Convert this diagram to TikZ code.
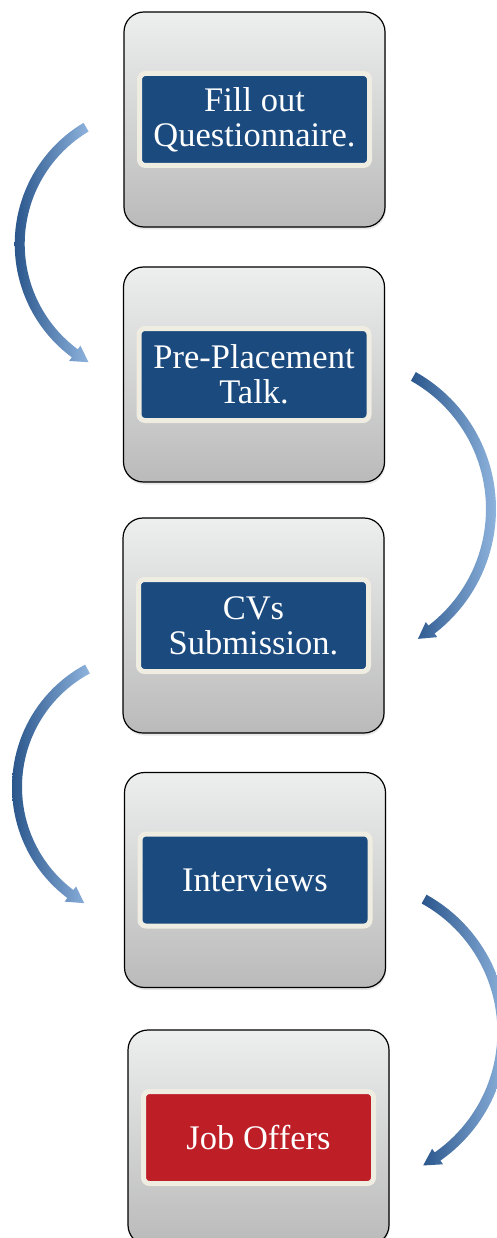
\documentclass[tikz,border=0pt]{standalone}
\usepackage{fontspec}
\setmainfont{Liberation Serif}
\usetikzlibrary{shadows}
\definecolor{boxtop}{RGB}{237,238,238}
\definecolor{boxbot}{RGB}{186,186,186}
\definecolor{cream}{RGB}{239,236,226}
\definecolor{stepblue}{RGB}{27,74,126}
\definecolor{stepred}{RGB}{190,30,37}
\definecolor{arrdark}{RGB}{42,86,140}
\definecolor{arrlight}{RGB}{142,179,221}
\newcommand{\flowarc}[6]{%
  \shade[left color=arrdark, right color=arrlight]
    plot[domain=#4:#5, samples=50] ({#1+(#3+5)*cos(\x)},{#2+(#3+5)*sin(\x)})
    -- ({#1+(#3+9.5)*cos(#5)},{#2+(#3+9.5)*sin(#5)})
    -- ({#1+#3*cos(#6)},{#2+#3*sin(#6)})
    -- ({#1+(#3-9.5)*cos(#5)},{#2+(#3-9.5)*sin(#5)})
    -- plot[domain=#5:#4, samples=50] ({#1+(#3-5)*cos(\x)},{#2+(#3-5)*sin(\x)})
    -- cycle;}
\tikzset{
  outerbox/.style={draw=black, line width=1.2pt, rounded corners=20pt,
    top color=boxtop, bottom color=boxbot,
    minimum width=261pt, minimum height=215pt, inner sep=0pt,
    drop shadow={shadow xshift=0.8pt, shadow yshift=-2.5pt, opacity=0.18}},
  innerbox/.style={draw=cream, line width=5pt, rounded corners=6pt,
    minimum width=230pt, minimum height=92pt, inner sep=0pt,
    text=white, align=center, font=\fontsize{34.5}{35}\selectfont},
  bluebox/.style={innerbox, fill=stepblue},
  redbox/.style={innerbox, fill=stepred}
}
\begin{document}
\begin{tikzpicture}[x=1pt, y=-1pt]
\useasboundingbox (0,0) rectangle (496,1238);
\fill[white] (0,0) rectangle (496,1238);

\node[outerbox] (o1) at (254.5,119.5) {};
\node[outerbox] (o2) at (254,374.5) {};
\node[outerbox] (o3) at (253.5,625.5) {};
\node[outerbox] (o4) at (255,880) {};
\node[outerbox] (o5) at (258.5,1137.5) {};

\node[bluebox] (s1) at (o1.center) {Fill out\\Questionnaire.};
\node[bluebox] (s2) at (o2.center) {Pre-Placement\\Talk.};
\node[bluebox] (s3) at (o3.center) {CVs\\Submission.};
\node[bluebox] (s4) at (o4.center) {Interviews};
\node[redbox] (s5) at (o5.center) {Job Offers};

\flowarc{155.7}{244}{136}{239.2}{126.5}{119.6}
\flowarc{339}{509}{152}{-60.7}{52.5}{58.7}
\flowarc{151}{787}{134}{241.7}{127}{119.9}
\flowarc{350.4}{1032}{152}{-61}{55}{61.4}
\end{tikzpicture}
\end{document}
